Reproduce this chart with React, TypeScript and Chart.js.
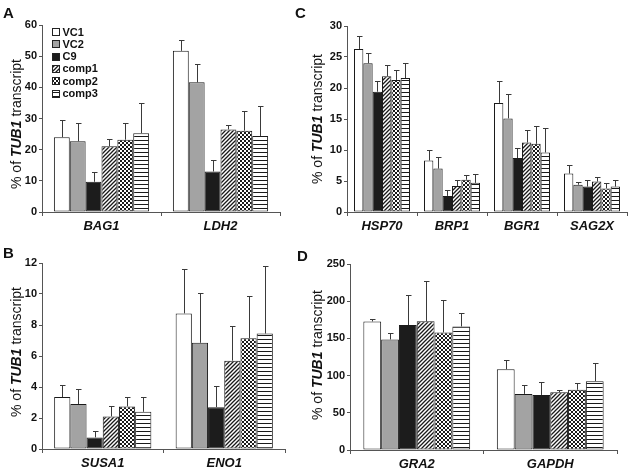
import React, { useEffect, useRef } from 'react';
import { Chart, registerables } from 'chart.js';
Chart.register(...registerables);

const FONT = "'Liberation Sans', Arial, Helvetica, sans-serif";

const seriesNames = ['VC1', 'VC2', 'C9', 'comp1', 'comp2', 'comp3'];

// Panel A
const genesA = ['BAG1', 'LDH2'];
const bag1Mean = [24.0, 22.7, 9.7, 21.1, 23.2, 25.3];
const bag1Err = [5.4, 5.8, 3.1, 2.3, 5.4, 9.8];
const ldh2Mean = [51.7, 41.6, 13.0, 26.5, 26.1, 24.4];
const ldh2Err = [3.5, 6.0, 3.7, 1.3, 6.4, 9.7];
const ticksA = { max: 60, step: 10 };

// Panel B
const genesB = ['SUSA1', 'ENO1'];
const susa1Mean = [3.35, 2.9, 0.75, 2.1, 2.75, 2.4];
const susa1Err = [0.75, 0.95, 0.4, 0.7, 0.6, 0.95];
const eno1Mean = [8.75, 6.85, 2.7, 5.7, 7.15, 7.45];
const eno1Err = [2.85, 3.2, 1.35, 2.25, 2.75, 4.35];
const ticksB = { max: 12, step: 2 };

// Panel C
const genesC = ['HSP70', 'BRP1', 'BGR1', 'SAG2X'];
const hsp70Mean = [26.3, 24.0, 19.4, 21.9, 21.3, 21.6];
const hsp70Err = [2.1, 1.6, 1.7, 1.8, 1.6, 2.4];
const brp1Mean = [8.3, 7.0, 2.6, 4.2, 5.2, 4.7];
const brp1Err = [1.7, 1.9, 0.9, 0.9, 0.8, 1.5];
const bgr1Mean = [17.6, 15.1, 8.7, 11.2, 11.0, 9.6];
const bgr1Err = [3.5, 4.0, 1.6, 2.1, 2.8, 4.0];
const sag2xMean = [6.2, 4.4, 4.1, 4.9, 3.8, 4.1];
const sag2xErr = [1.4, 0.4, 1.1, 0.8, 0.8, 1.1];
const ticksC = { max: 30, step: 5 };

// Panel D
const genesD = ['GRA2', 'GAPDH'];
const gra2Mean = [172.8, 148.6, 168, 173, 158, 166];
const gra2Err = [3.2, 8.4, 40, 54, 43, 18.5];
const gapdhMean = [108.6, 75.4, 74, 77.6, 81, 92.5];
const gapdhErr = [11.7, 11.6, 17.5, 2.4, 9.7, 24.2];
const ticksD = { max: 250, step: 50 };

function makePattern(ctx: CanvasRenderingContext2D, kind: string): CanvasPattern | string {
  const t = document.createElement('canvas');
  t.width = 4;
  t.height = 4;
  const c = t.getContext('2d')!;
  c.fillStyle = '#ffffff';
  c.fillRect(0, 0, 4, 4);
  c.fillStyle = '#1a1a1a';
  if (kind === 'diag') {
    c.strokeStyle = '#1a1a1a';
    c.lineWidth = 1.3;
    c.beginPath();
    c.moveTo(-1, 5);
    c.lineTo(5, -1);
    c.moveTo(-3, 3);
    c.lineTo(3, -3);
    c.moveTo(1, 7);
    c.lineTo(7, 1);
    c.stroke();
  } else if (kind === 'check') {
    c.fillRect(0, 0, 2, 2);
    c.fillRect(2, 2, 2, 2);
  } else {
    c.fillRect(0, 0, 4, 1);
  }
  return ctx.createPattern(t, 'repeat') || '#888';
}

const errorBarPlugin = {
  id: 'errbars',
  afterDatasetsDraw(chart: any, _args: any, opts: any) {
    const errs: number[][] = opts.errors;
    if (!errs) return;
    const ctx = chart.ctx;
    const ys = chart.scales.y;
    ctx.save();
    ctx.strokeStyle = '#3a3a3a';
    ctx.lineWidth = 1;
    chart.data.datasets.forEach((ds: any, di: number) => {
      const meta = chart.getDatasetMeta(di);
      meta.data.forEach((bar: any, i: number) => {
        const v = ds.data[i];
        const e = errs[i][di];
        const x = Math.round(bar.x) + 0.5;
        const y0 = ys.getPixelForValue(v);
        const y1 = Math.round(ys.getPixelForValue(v + e)) + 0.5;
        ctx.beginPath();
        ctx.moveTo(x, y0);
        ctx.lineTo(x, y1);
        ctx.moveTo(x - 2.5, y1);
        ctx.lineTo(x + 3, y1);
        ctx.stroke();
      });
    });
    ctx.restore();
  },
};

const legendPlugin = {
  id: 'panelLegend',
  afterDraw(chart: any, _args: any, opts: any) {
    if (!opts.show) return;
    const ctx = chart.ctx;
    const a = chart.chartArea;
    ctx.save();
    ctx.font = `bold 11px ${FONT}`;
    ctx.textBaseline = 'middle';
    ctx.fillStyle = '#111';
    chart.data.datasets.forEach((ds: any, i: number) => {
      const bx = Math.round(a.left + 10) + 0.5;
      const cy = a.top + 7 + i * 12.3;
      const by = Math.round(cy - 4) + 0.5;
      ctx.fillStyle = ds.backgroundColor;
      ctx.fillRect(bx, by, 7, 7);
      ctx.strokeStyle = '#222';
      ctx.lineWidth = 1;
      ctx.strokeRect(bx, by, 7, 7);
      ctx.fillStyle = '#111';
      ctx.fillText(ds.label, bx + 10, cy + 0.5);
    });
    ctx.restore();
  },
};

type Area = { left: number; right: number; top: number; bottom: number };

function Panel(props: {
  left: number;
  top: number;
  w: number;
  h: number;
  area: Area;
  genes: string[];
  means: number[][];
  errs: number[][];
  yMax: number;
  step: number;
  legend?: boolean;
}) {
  const ref = useRef<HTMLCanvasElement>(null);
  useEffect(() => {
    const canvas = ref.current!;
    const ctx = canvas.getContext('2d')!;
    const fills = [
      '#ffffff',
      '#a3a3a3',
      '#1c1c1c',
      makePattern(ctx, 'diag'),
      makePattern(ctx, 'check'),
      makePattern(ctx, 'horiz'),
    ];
    const { w, h, area } = props;
    const chart = new Chart(canvas, {
      type: 'bar',
      data: {
        labels: props.genes,
        datasets: seriesNames.map((name, s) => ({
          label: name,
          data: props.means.map((m) => m[s]),
          backgroundColor: fills[s] as any,
          borderColor: '#1a1a1a',
          borderWidth: 1,
          borderSkipped: false,
          barPercentage: 1,
          categoryPercentage: 0.8,
        })),
      },
      options: {
        responsive: false,
        animation: false,
        devicePixelRatio: 1,
        layout: { padding: { left: 0, right: w - area.right, top: area.top, bottom: 0 } },
        plugins: {
          legend: { display: false },
          tooltip: { enabled: false },
          errbars: { errors: props.errs },
          panelLegend: { show: !!props.legend },
        } as any,
        scales: {
          x: {
            grid: { drawOnChartArea: false, tickLength: 4, color: '#555', offset: true },
            border: { color: '#555' },
            ticks: {
              font: { family: FONT, size: 13, weight: 'bold', style: 'italic' },
              color: '#111',
              padding: 3,
            },
            afterFit: (s: any) => {
              s.height = h - area.bottom;
            },
          },
          y: {
            min: 0,
            max: props.yMax,
            ticks: {
              stepSize: props.step,
              font: { family: FONT, size: 11, weight: 'bold' },
              color: '#111',
              padding: 2,
            },
            grid: { drawOnChartArea: false, tickLength: 3, color: '#555' },
            border: { color: '#555' },
            afterFit: (s: any) => {
              s.width = area.left;
            },
          },
        } as any,
      },
      plugins: [errorBarPlugin, legendPlugin],
    });
    return () => chart.destroy();
  }, []);
  return (
    <canvas
      ref={ref}
      width={props.w}
      height={props.h}
      style={{ position: 'absolute', left: props.left, top: props.top, width: props.w, height: props.h }}
    />
  );
}

function YTitle({ cx, cy }: { cx: number; cy: number }) {
  return (
    <div
      style={{
        position: 'absolute',
        left: cx,
        top: cy,
        transform: 'translate(-50%, -50%) rotate(-90deg)',
        whiteSpace: 'nowrap',
        fontFamily: FONT,
        fontSize: 14,
        lineHeight: '14px',
        color: '#111',
      }}
    >
      % of <span style={{ fontWeight: 'bold', fontStyle: 'italic' }}>TUB1</span> transcript
    </div>
  );
}

function Letter({ x, y, t }: { x: number; y: number; t: string }) {
  return (
    <div
      style={{
        position: 'absolute',
        left: x,
        top: y,
        fontFamily: FONT,
        fontWeight: 'bold',
        fontSize: 15,
        lineHeight: '15px',
        color: '#111',
      }}
    >
      {t}
    </div>
  );
}

export default function App() {
  return (
    <div
      style={{
        position: 'absolute',
        left: 0,
        top: 0,
        width: 630,
        height: 470,
        background: '#fff',
        overflow: 'hidden',
      }}
    >
      <Panel
        left={0}
        top={0}
        w={315}
        h={235}
        area={{ left: 42, right: 280, top: 25, bottom: 212 }}
        genes={genesA}
        means={[bag1Mean, ldh2Mean]}
        errs={[bag1Err, ldh2Err]}
        yMax={ticksA.max}
        step={ticksA.step}
        legend
      />
      <Panel
        left={315}
        top={0}
        w={315}
        h={235}
        area={{ left: 32, right: 312, top: 26, bottom: 212 }}
        genes={genesC}
        means={[hsp70Mean, brp1Mean, bgr1Mean, sag2xMean]}
        errs={[hsp70Err, brp1Err, bgr1Err, sag2xErr]}
        yMax={ticksC.max}
        step={ticksC.step}
      />
      <Panel
        left={0}
        top={235}
        w={315}
        h={235}
        area={{ left: 42, right: 285, top: 28, bottom: 214 }}
        genes={genesB}
        means={[susa1Mean, eno1Mean]}
        errs={[susa1Err, eno1Err]}
        yMax={ticksB.max}
        step={ticksB.step}
      />
      <Panel
        left={315}
        top={235}
        w={315}
        h={235}
        area={{ left: 35, right: 302, top: 29, bottom: 215 }}
        genes={genesD}
        means={[gra2Mean, gapdhMean]}
        errs={[gra2Err, gapdhErr]}
        yMax={ticksD.max}
        step={ticksD.step}
      />
      <YTitle cx={15.5} cy={124} />
      <YTitle cx={317} cy={119} />
      <YTitle cx={15.5} cy={352} />
      <YTitle cx={317} cy={355} />
      <Letter x={3} y={5} t="A" />
      <Letter x={295} y={5} t="C" />
      <Letter x={3} y={245} t="B" />
      <Letter x={297} y={248} t="D" />
    </div>
  );
}
